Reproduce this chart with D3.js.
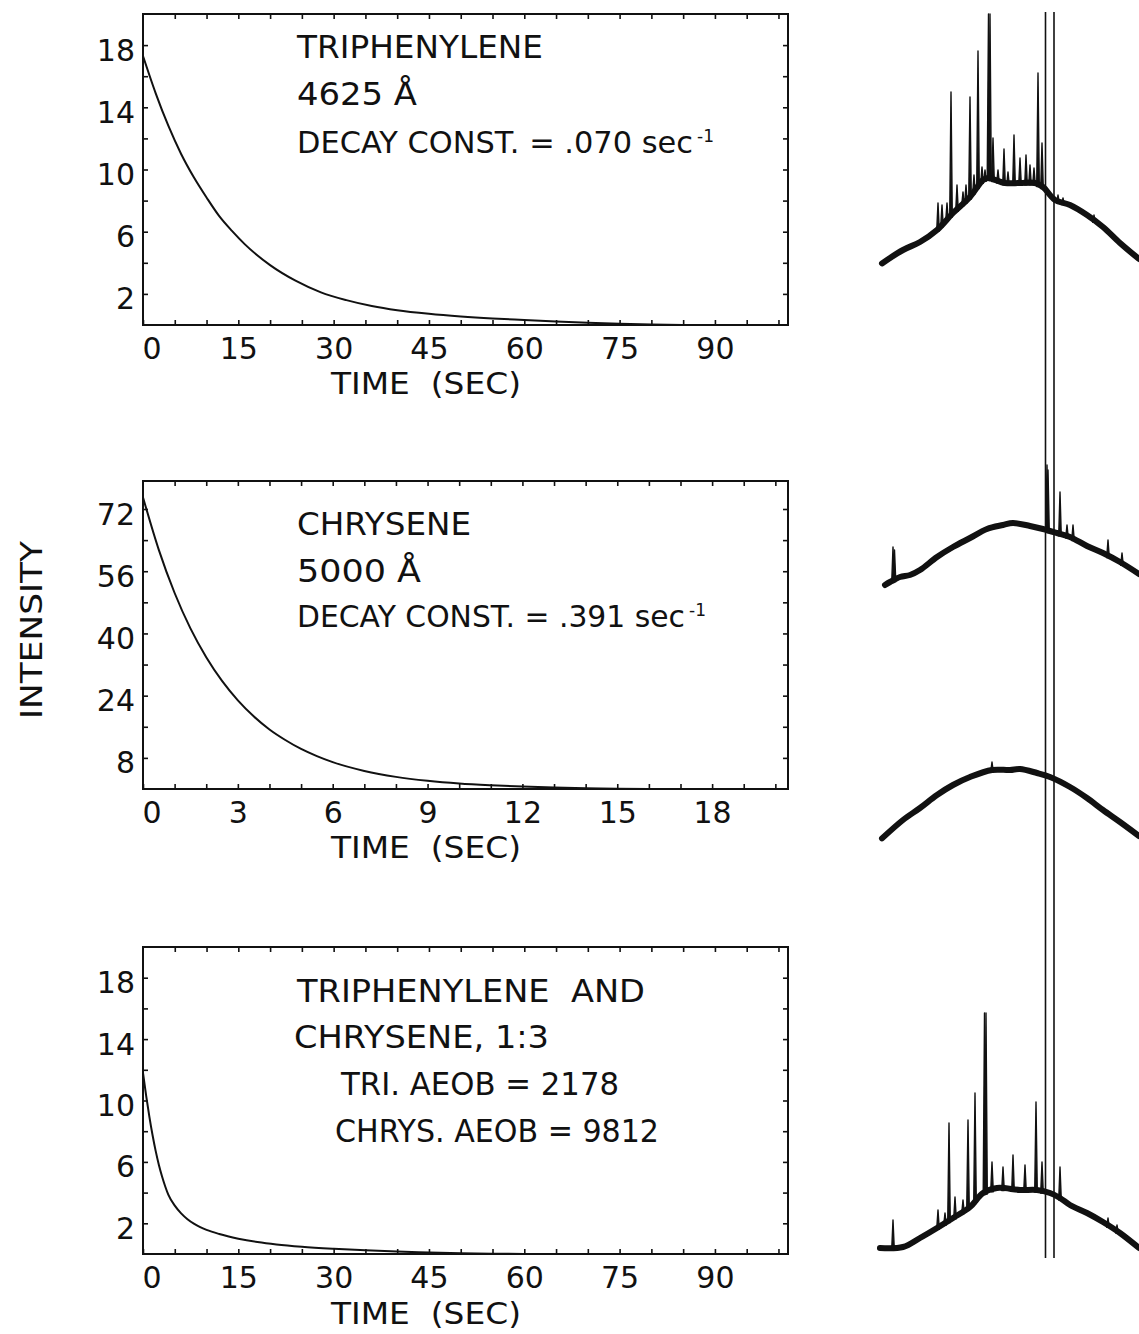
<!DOCTYPE html>
<html>
<head>
<meta charset="utf-8">
<script src="https://cdn.jsdelivr.net/npm/d3@7"></script>
<style>
  html, body { margin: 0; padding: 0; background: #fff; }
  svg { display: block; }
  text { font-family: "DejaVu Sans", sans-serif; fill: #111; }
</style>
</head>
<body>
<svg id="chart" width="1139" height="1334"></svg>
<script>
// ---------- Decay curves (time in s, intensity) ----------
const triTime       = [0, 2, 4, 6, 8, 10, 12, 14, 16, 20, 24, 28, 32, 36, 40, 45, 50, 55, 60, 65, 70, 75, 80, 85];
const triIntensity  = [17.3, 14.9, 12.8, 11.0, 9.5, 8.2, 7.0, 6.05, 5.2, 3.85, 2.85, 2.1, 1.6, 1.22, 0.95, 0.72, 0.55, 0.42, 0.32, 0.22, 0.14, 0.08, 0.03, 0];

const chrTime       = [0, 0.5, 1, 1.5, 2, 2.5, 3, 3.5, 4, 4.5, 5, 5.5, 6, 7, 8, 9, 10, 11, 12, 13, 14, 15, 16];
const chrIntensity  = [75, 61.5, 50.4, 41.3, 33.9, 27.8, 22.8, 18.7, 15.3, 12.6, 10.3, 8.45, 6.9, 4.65, 3.12, 2.1, 1.4, 0.95, 0.62, 0.38, 0.2, 0.08, 0];

const mixTime       = [0, 0.5, 1, 1.5, 2, 2.5, 3, 3.5, 4, 5, 6, 7, 8, 9, 10, 12, 15, 18, 21, 25, 30, 35, 40, 45, 50, 55, 60];
const mixIntensity  = [11.8, 10.3, 8.95, 7.75, 6.7, 5.8, 5.05, 4.4, 3.85, 3.15, 2.65, 2.27, 1.98, 1.75, 1.57, 1.3, 1.0, 0.78, 0.62, 0.47, 0.34, 0.24, 0.16, 0.1, 0.05, 0.02, 0];

// ---------- Tick labels ----------
const longTimeTicks  = [0, 15, 30, 45, 60, 75, 90];
const shortTimeTicks = [0, 3, 6, 9, 12, 15, 18];
const triYTicks      = [2, 6, 10, 14, 18];
const chrYTicks      = [8, 24, 40, 56, 72];
const mixYTicks      = [2, 6, 10, 14, 18];

// ---------- Panel captions ----------
const triNotes = ["TRIPHENYLENE", "4625 Å", "DECAY CONST. = .070 sec"];
const chrNotes = ["CHRYSENE", "5000 Å", "DECAY CONST. = .391 sec"];
const mixNotes = ["TRIPHENYLENE  AND", "CHRYSENE, 1:3", "TRI. AEOB = 2178", "CHRYS. AEOB = 9812"];
const perSecond = "-1";
const xTitle = "TIME  (SEC)";
const yTitle = "INTENSITY";

// ---------- Emission spectra (channel, relative intensity) ----------
const spec1Channel = [2, 23, 40, 57, 73, 90, 103, 108, 125, 140, 155, 163, 175, 190, 207, 223, 240, 259];
const spec1Level   = [3.3, 10, 14, 20, 28.5, 36.5, 45, 46, 43.5, 43.5, 43.5, 41.5, 35, 32.5, 27.5, 21.5, 13.5, 5.5];
const spec1PeakAt  = [58, 62, 67, 71, 77, 83, 86, 90, 94, 98, 102, 105, 108.5, 110, 113, 118, 124, 128, 134, 140, 146, 150, 154, 158, 162, 178, 183, 214];
const spec1PeakTop = [33.5, 32.5, 33.5, 89, 42.5, 39, 42.5, 86.5, 47.5, 109.5, 51.5, 50, 128, 128, 66, 50, 60.5, 49, 67.5, 56, 57.5, 52.5, 51, 98.5, 63.5, 37.5, 36, 27.5];

const spec2Channel = [5, 10, 20, 30, 40, 57, 73, 90, 107, 123, 133, 150, 163, 177, 190, 207, 223, 240, 259];
const spec2Level   = [2.5, 4, 6.5, 7.5, 10, 16.5, 21.5, 26, 30.5, 32.5, 33.5, 32, 30.5, 28.5, 26.5, 22, 18.5, 14, 8];
const spec2PeakAt  = [13, 14.5, 167, 168, 180, 187, 193, 228, 242];
const spec2PeakTop = [21.5, 20, 62.5, 60, 49, 32.5, 32.5, 25, 18.5];

const spec3Channel = [2, 23, 40, 57, 73, 90, 112, 130, 140, 157, 170, 190, 207, 223, 240, 259];
const spec3Level   = [3.3, 12.5, 18.5, 25, 30, 34, 37.5, 37.5, 38, 36, 34, 29, 23.5, 17.5, 11.5, 4.5];
const spec3PeakAt  = [112];
const spec3PeakTop = [41.5];

const spec4Channel = [0, 23, 40, 57, 73, 90, 103, 117, 140, 157, 170, 180, 190, 207, 223, 240, 259];
const spec4Level   = [3.5, 4, 8.5, 13.5, 18.5, 24, 31, 33.5, 32.5, 32.5, 31, 28.5, 25, 21, 16.5, 11, 3.5];
const spec4PeakAt  = [13, 58, 65, 69, 75, 83, 88, 95, 104.5, 106, 112, 123, 133, 145, 156, 162, 180, 228, 237];
const spec4PeakTop = [17.5, 22.5, 21, 66, 29, 27.5, 67.5, 81, 121, 121, 46.5, 44, 50, 45, 76.5, 46.5, 44, 18.5, 15];

// reference wavelength markers crossing all spectra
const markerChannels = [165.5, 174];

// ---------- Layout ----------
const svg = d3.select("#chart");
const plotLeft = 143, plotRight = 788;
const ink = "#111";
const font = "DejaVu Sans, sans-serif";

const panels = [
  { time: triTime, value: triIntensity, xMax: 101.5, xStep: 5, xLabels: longTimeTicks,
    yMax: 20, yStep: 2, yLabels: triYTicks, top: 14, bottom: 325,
    notes: triNotes, noteX: [297, 297, 297], noteY: [58, 105, 153], noteLen: [246, 120, 396],
    noteSize: [32, 32, 30], sup: { dx: 4, dy: -11 }, titleY: 394 },
  { time: chrTime, value: chrIntensity, xMax: 20.4, xStep: 1, xLabels: shortTimeTicks,
    yMax: 79.2, yStep: 8, yLabels: chrYTicks, top: 481, bottom: 789,
    notes: chrNotes, noteX: [297, 297, 297], noteY: [535, 582, 627], noteLen: [174, 124, 388],
    noteSize: [32, 32, 30], sup: { dx: 4, dy: -11 }, titleY: 858 },
  { time: mixTime, value: mixIntensity, xMax: 101.5, xStep: 5, xLabels: longTimeTicks,
    yMax: 20, yStep: 2, yLabels: mixYTicks, top: 947, bottom: 1254,
    notes: mixNotes, noteX: [297, 294, 341, 335], noteY: [1002, 1048, 1095, 1142], noteLen: [348, 255, 278, 324],
    noteSize: [32, 32, 32, 32], sup: null, titleY: 1324 }
];

function styleAxis(g) {
  g.select(".domain").remove();
  g.selectAll(".tick line").attr("stroke", ink).attr("stroke-width", 1.6);
  g.selectAll("text")
    .attr("font-family", font)
    .attr("font-size", 30)
    .attr("fill", ink);
  g.attr("font-family", null).attr("font-size", null);
}

panels.forEach(p => {
  const g = svg.append("g");
  const x = d3.scaleLinear().domain([0, p.xMax]).range([plotLeft, plotRight]);
  const y = d3.scaleLinear().domain([0, p.yMax]).range([p.bottom, p.top]);

  const xMinor = d3.range(0, p.xMax, p.xStep).filter(v => v > 0);
  const yMinor = d3.range(p.yStep, p.yMax, p.yStep);

  // bottom axis: inward minor ticks, only the listed values labelled
  const bottom = g.append("g")
    .attr("transform", `translate(0,${p.bottom})`)
    .call(d3.axisBottom(x).tickValues([0, ...xMinor]).tickSize(-5).tickSizeOuter(0)
      .tickPadding(13).tickFormat(d => p.xLabels.includes(d) ? String(d) : ""));
  styleAxis(bottom);
  bottom.selectAll(".tick").filter(d => d === 0).select("text")
    .attr("text-anchor", "start").attr("x", -1);

  const leftAx = g.append("g")
    .attr("transform", `translate(${plotLeft},0)`)
    .call(d3.axisLeft(y).tickValues(yMinor).tickSize(-5).tickSizeOuter(0)
      .tickPadding(8).tickFormat(d => p.yLabels.includes(d) ? String(d) : ""));
  styleAxis(leftAx);
  leftAx.selectAll("text").attr("dy", "0.5em");

  const topAx = g.append("g")
    .attr("transform", `translate(0,${p.top})`)
    .call(d3.axisTop(x).tickValues(xMinor).tickSize(-5).tickSizeOuter(0).tickFormat(""));
  styleAxis(topAx);

  const rightAx = g.append("g")
    .attr("transform", `translate(${plotRight},0)`)
    .call(d3.axisRight(y).tickValues(yMinor).tickSize(-5).tickSizeOuter(0).tickFormat(""));
  styleAxis(rightAx);

  // frame
  g.append("rect")
    .attr("x", plotLeft).attr("y", p.top)
    .attr("width", plotRight - plotLeft).attr("height", p.bottom - p.top)
    .attr("fill", "none").attr("stroke", ink).attr("stroke-width", 2);

  // decay curve
  const pts = p.time.map((t, i) => [t, p.value[i]]);
  g.append("path")
    .datum(pts)
    .attr("fill", "none").attr("stroke", ink).attr("stroke-width", 2)
    .attr("d", d3.line().x(d => x(d[0])).y(d => y(d[1])).curve(d3.curveMonotoneX));

  // captions
  p.notes.forEach((txt, i) => {
    const t = g.append("text")
      .attr("x", p.noteX[i]).attr("y", p.noteY[i])
      .attr("font-size", p.noteSize[i])
      .style("white-space", "pre");
    t.append("tspan")
      .attr("textLength", p.noteLen[i])
      .attr("lengthAdjust", "spacingAndGlyphs")
      .text(txt);
    // the decay line carries a raised "-1" (per second)
    if (p.sup && i === p.notes.length - 1) {
      t.append("tspan")
        .attr("dx", p.sup.dx).attr("dy", p.sup.dy)
        .attr("font-size", 17)
        .text(perSecond);
    }
  });

  // x-axis title
  g.append("text")
    .attr("x", 331).attr("y", p.titleY)
    .attr("font-size", 30)
    .attr("textLength", 190)
    .attr("lengthAdjust", "spacingAndGlyphs")
    .style("white-space", "pre")
    .text(xTitle);
});

// shared y-axis title
svg.append("text")
  .attr("transform", "translate(42,630) rotate(-90)")
  .attr("text-anchor", "middle")
  .attr("font-size", 31)
  .attr("textLength", 178)
  .attr("lengthAdjust", "spacingAndGlyphs")
  .text(yTitle);

// ---------- Spectra column ----------
const specX = d3.scaleLinear().domain([0, 260]).range([880, 1140]);
const spectra = [
  { ch: spec1Channel, lv: spec1Level, pk: spec1PeakAt, top: spec1PeakTop, base: 270 },
  { ch: spec2Channel, lv: spec2Level, pk: spec2PeakAt, top: spec2PeakTop, base: 590 },
  { ch: spec3Channel, lv: spec3Level, pk: spec3PeakAt, top: spec3PeakTop, base: 845 },
  { ch: spec4Channel, lv: spec4Level, pk: spec4PeakAt, top: spec4PeakTop, base: 1255 }
];

const specG = svg.append("g");
spectra.forEach(s => {
  const yS = d3.scaleLinear().domain([0, 130]).range([s.base, s.base - 260]);
  const envelope = d3.scaleLinear().domain(s.ch).range(s.lv).clamp(true);
  const pts = s.ch.map((c, i) => [c, s.lv[i]]);

  specG.append("path")
    .datum(pts)
    .attr("fill", "none").attr("stroke", ink)
    .attr("stroke-width", 6).attr("stroke-linejoin", "round").attr("stroke-linecap", "round")
    .attr("d", d3.line().x(d => specX(d[0])).y(d => yS(d[1])).curve(d3.curveCatmullRom));

  const peaks = s.pk.map((c, i) => ({ c, top: s.top[i], floor: envelope(c) - 1 }));
  specG.selectAll(null)
    .data(peaks)
    .join("path")
    .attr("fill", ink).attr("stroke", ink).attr("stroke-width", 1.4).attr("stroke-linejoin", "round")
    .attr("d", d => `M${specX(d.c - 1.3)},${yS(d.floor)}L${specX(d.c)},${yS(d.top)}L${specX(d.c + 1.3)},${yS(d.floor)}Z`);
});

// vertical reference markers through all four spectra
specG.selectAll(null)
  .data(markerChannels)
  .join("line")
  .attr("x1", d => specX(d)).attr("x2", d => specX(d))
  .attr("y1", 12).attr("y2", 1258)
  .attr("stroke", ink).attr("stroke-width", 1.6);
</script>
</body>
</html>
